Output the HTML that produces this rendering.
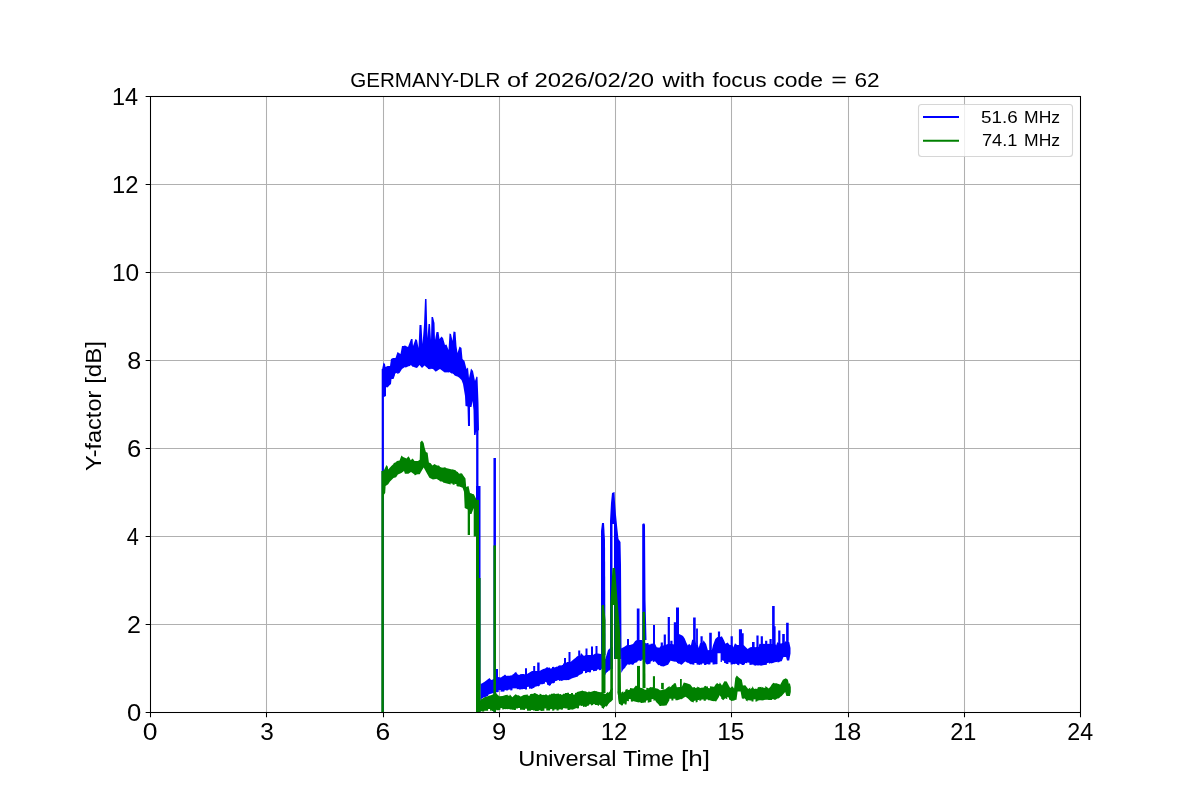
<!DOCTYPE html>
<html><head><meta charset="utf-8"><style>html,body{margin:0;padding:0;background:#fff;width:1200px;height:800px;overflow:hidden}svg{display:block;will-change:transform}</style></head>
<body><svg width="1200" height="800" viewBox="0 0 1200 800"><path d="M150.5 96V712M266.5 96V712M383.5 96V712M499.5 96V712M615.5 96V712M731.5 96V712M848.5 96V712M964.5 96V712M1080.5 96V712M150 712.5H1080M150 624.5H1080M150 536.5H1080M150 448.5H1080M150 360.5H1080M150 272.5H1080M150 184.5H1080M150 96.5H1080" stroke="#b0b0b0" stroke-width="1.05" fill="none"/><defs><clipPath id="ax"><rect x="150" y="96" width="930" height="616"/></clipPath></defs><g clip-path="url(#ax)"><polygon points="382.2,369 383.5,362.5 385,364 385.5,367 387.5,366 390,366 391,359 393,358 395.5,358 396.5,355 397.5,352 399,353 400.5,354 402,346 403.5,346 405,345.5 408,347 411,339 412.5,339 413,346 415.5,339 417,340 418.5,348 419.5,325 421.5,325 422.5,344 424,325 425,299 426.5,299 427.5,338 428.5,324 430,324 431,340 431.5,317 433,317 434.5,323 435,340 436.5,332 438.5,332 439.5,339 441.5,336.5 443,338 445,345 446.5,344.5 448.5,350 449.5,333.5 451,334 452.5,341 453.5,331.5 455.5,332 456.5,346 457.5,353 459.5,346.5 461.5,348 462.5,359 464.5,361 466.5,369 468,367.5 469,378 471,368.5 473,371 475,381 476.5,376.5 477.5,377 478.5,403 479,430 479,430 476,432 475.5,435 474,435 473.5,410 472.5,401 471.5,407 470,407 470,426 468,426 467.5,406.5 465.5,406 465,396 464,390 463,384 461.5,380 459,377.5 459,377.5 456.5,376 456.5,376.55 454,375.05 454,374.5 454,374.5 452,373.25 452,373.84 450,372.59 450,372 449,372.5 449,372.5 446.5,372.25 446.5,372.58 444,372.33 444,372 444,372 442,370.5 442,370.59 440,369.09 440,369 440,369 437.75,370.25 437.75,370.47 435.5,371.72 435.5,371.5 433,369 433,369 430.5,368.75 430.5,369.33 428,369.08 428,368.5 424.5,365.5 422,368 419.5,365 417,368 415,367.5 414,367 414,367 412,366.5 412,365.73 410,365.23 410,366 410,366 407.5,366.5 407.5,367 405,367.5 405,367 402,369 399.5,373 399.5,373 397.25,374 397.25,372.8 395,373.8 395,375 393.5,379 391.5,379 391,384 391,384 389,385.75 389,386.04 387,387.79 387,387.5 386,387 386,396 384,397 382,397" fill="#0000ff"/><polygon points="480.6,684 482.2,683.3 484.6,681.7 486.3,680.5 489.5,678 491.1,680 493.6,679.3 496,677 496,669.1 498,669.1 498,677 500.9,677.6 500.9,677.6 502.95,676 502.95,676.14 505,674.54 505,674.4 506.6,676 506.6,676 508.5,675.6 508.5,675.91 510.4,675.51 510.4,675.58 512.3,675.18 512.3,674.8 512.3,674.8 514.3,673.6 514.3,673 516.3,671.8 516.3,672.4 518,674.8 518,674.8 520,674.67 520,674.23 522,674.1 522,674.07 524,673.94 524,674.4 525,674 525,668.3 527,668.3 527,674 527,674 529.5,672.5 529.5,672.45 532,670.95 532,671 533.2,671 533.2,666 535.2,666 535.2,671 536.5,671 537.2,671 537.2,662.5 539.6,662.5 539.6,671 539.6,671 541.73,669.83 541.73,669.8 543.87,668.63 543.87,669.09 546,667.92 546,667.5 546,667.5 548,667.33 548,667.74 550,667.57 550,668.45 552,668.28 552,667 552,667 554,666.67 554,667.44 556,667.11 556,666.86 558,666.53 558,666 558,666 560.5,665 560.5,665.84 563,664.84 563,664 564,663 564,658 566,658 566,663 567,662 568.5,662 568.5,652 570.5,652 570.5,662 574,659 574,659 576,657.5 576,657.13 578,655.63 578,656 578.2,656 578.2,650.5 580.2,650.5 580.2,656 581,653 584,656 585.5,655 585.5,648.5 587.5,648.5 587.5,655 590,655 591,655 591,646.5 593,646.5 593,655 594.5,654 595.5,653.5 595.5,646 597.5,646 597.5,653.5 598,653.5 601,654 601,654 603.35,655.85 603.35,657.12 605.7,658.97 605.7,657.7 608,650 610.8,647.4 612.9,647 612.9,669 610.8,669 610.8,669 609.1,671 609.1,670.31 607.4,672.31 607.4,671.67 605.7,673.67 605.7,675 605.7,675 603.35,672.5 603.35,670.98 601,668.48 601,670 601,670 599,670.33 599,669.33 597,669.66 597,670.77 595,671.11 595,671 595,671 593,671.33 593,670 591,670.34 591,672.24 589,672.58 589,672 589,672 587,672.33 587,672.82 585,673.15 585,670.94 583,671.27 583,673 583,673 580.5,674.75 580.5,674.37 578,676.12 578,676.5 578,676.5 575.5,677.25 575.5,677.21 573,677.96 573,678 573,678 570.5,679 570.5,679.29 568,680.29 568,680 568,680 565.5,680.25 565.5,680 563,680.25 563,680.5 563,680.5 561,681 561,680.44 559,680.94 559,679.94 557,680.44 557,680.77 555,681.27 555,682.5 555,682.5 553,683.5 553,682.97 551,683.97 551,685.03 549,686.03 549,685.5 549,685.5 547,684.5 547,682.77 545,681.77 545,683.5 545,683.5 543.25,684.12 543.25,683.92 541.5,684.54 541.5,684.08 539.75,684.7 539.75,685.86 538,686.49 538,686 538,686 536.25,686.62 536.25,686.4 534.5,687.03 534.5,687.65 532.75,688.27 532.75,688.46 531,689.09 531,688.5 531,688.5 529,688.67 529,686.82 527,686.98 527,689.41 525,689.58 525,689 525,689 522.93,689 522.93,689.18 520.87,689.18 520.87,689.54 518.8,689.54 518.8,689 518.8,689 516.68,689.24 516.68,688.36 514.56,688.6 514.56,688.18 512.44,688.42 512.44,690.32 510.32,690.56 510.32,689.62 508.2,689.86 508.2,690.2 508.2,690.2 506.3,690.63 506.3,689.94 504.4,690.38 504.4,691.39 502.5,691.83 502.5,691.5 502.5,691.5 500.6,691.77 500.6,689.96 498.7,690.23 498.7,691.99 496.8,692.26 496.8,692.3 496.8,692.3 494.8,692.7 494.8,693.06 492.8,693.46 492.8,693.1 492.8,693.1 490.55,694.12 490.55,693.83 488.3,694.85 488.3,695.75 486.05,696.77 486.05,696.68 483.8,697.7 483.8,697.2 480.6,699.6" fill="#0000ff"/><polygon points="621,648.4 624,647 627,645 627,639 629,639 629,645 630,645 633,644 635.2,641 636.8,640 636.8,608.5 639.5,608.5 639.5,640 640.5,640 642.2,640 642.2,640 644.35,641.5 644.35,642.28 646.5,643.78 646.5,643 646.5,643 648.5,643 648.5,644.62 650.5,644.62 650.5,643.77 652.5,643.77 652.5,643 653,644 653,625 655,625 655,644 655,643.7 656.7,647.2 659.4,647.7 660.7,646 660.7,642.4 662.9,642.4 662.9,646 663.3,645.5 663.7,645 663.7,634.6 665.9,634.6 665.9,645 666.4,644.6 667.7,644 667.7,617 669.9,617 669.9,644 670.3,644 670.3,640.7 672.5,640.7 672.5,644 673.4,644.6 673.8,644 673.8,622.3 676,622.3 676,644 676,640 676,607.4 679,607.4 679,640 679,634.1 681.2,635 683,635.9 684.7,638.5 686.5,642.9 687.8,645.5 689.1,643.7 690.9,645.5 692.2,639.4 693.1,640 693.1,617.5 695.7,617.5 695.7,640 696.1,645 696.1,628.4 697.9,628.4 697.9,645 698.7,648.1 700,643.2 700.5,643 700.5,636.2 702.7,636.2 702.7,643 703.5,640.2 706.1,644.1 707.9,650.2 709.2,650 709.2,632.7 711.8,632.7 711.8,650 713.1,645 715.3,638.9 717.5,637.1 717.9,637 717.9,631.4 720.1,631.4 720.1,637 721.9,636.2 724.1,640.6 725.4,643.7 727.6,642.4 729.7,645 730.6,645 730.6,636.2 732.8,636.2 732.8,645 733.2,647.6 735,643.2 737.2,645 738.9,645 738.9,629.2 742,629.2 742,645 742,645 742,633.2 743.7,633.2 743.7,645 744.6,645.9 747.6,649 750.2,647.2 752,647 752,642 754.6,642 754.6,647 755.1,647.2 756.4,647 756.4,635.4 758.6,635.4 758.6,647 759.4,643.7 760.7,644 760.7,636.3 762.9,636.3 762.9,644 763.8,643.7 765.1,644 765.1,640.7 767.3,640.7 767.3,644 768.2,643.7 769.5,644 769.5,638.9 771.7,638.9 771.7,644 772.1,644 772.1,606.1 774.7,606.1 774.7,644 774.7,644 774.7,626.2 775.6,626.2 775.6,644 776.1,645.5 777.4,642 778.2,643 778.2,630.6 780.4,630.6 780.4,643 780.9,643.7 782.2,643 782.2,634.1 784.8,634.1 784.8,643 785.2,641.1 786.1,642 786.1,622.7 788.7,622.7 788.7,642 789.2,642 790.5,648.1 790.5,653.4 790.5,653.4 789.2,660.4 787,660.4 786.1,656.9 783.5,656.9 781.7,661.2 781.7,661.2 779.67,661.5 779.67,662.1 777.63,662.4 777.63,661.86 775.6,662.16 775.6,662.1 773,663 773,663 770.97,663.57 770.97,663.11 768.93,663.68 768.93,662.7 766.9,663.27 766.9,664.7 766.9,664.7 764.7,664.93 764.7,664.97 762.5,665.2 762.5,665.6 760.3,665.82 760.3,665.24 758.1,665.46 758.1,665.6 758.1,665.6 755.9,665.15 755.9,665.75 753.7,665.3 753.7,664.7 753.7,664.7 751.53,664.5 751.53,664.9 749.35,664.7 749.35,662.8 747.17,662.6 747.17,663.23 745,663.03 745,663.9 743.7,665.1 743.7,665.1 741.53,664.88 741.53,663.89 739.35,663.66 739.35,665.2 737.17,664.98 737.17,664.07 735,663.85 735,664.2 735,664.2 732.8,664 732.8,664.6 730.6,664.4 730.6,662.5 728.4,662.3 728.4,664.09 726.2,663.89 726.2,663.4 726.2,663.4 724.05,662.75 724.05,660.94 721.9,660.29 721.9,662.1 720.6,662 720.6,653.3 717.5,653.3 717.5,664 716.6,664.2 716.6,664.2 714.57,664.2 714.57,664.59 712.53,664.59 712.53,662.49 710.5,662.49 710.5,664.2 710.5,664.2 708.3,664.65 708.3,664.1 706.1,664.55 706.1,665.1 706.1,665.1 704.07,665.1 704.07,663.49 702.03,663.49 702.03,664.51 700,664.51 700,665.1 698.7,664.7 698.7,664.7 696.53,664.5 696.53,663.1 694.35,662.9 694.35,664.68 692.17,664.48 692.17,664.37 690,664.17 690,663.9 690,663.9 687.8,662.55 687.8,663.1 685.6,661.75 685.6,661.2 685.6,661.2 683.4,662.95 683.4,663.32 681.2,665.07 681.2,664.7 681.2,664.7 679.05,663.4 679.05,664 676.9,662.7 676.9,662.1 676.9,662.1 674.83,661.53 674.83,661.85 672.77,661.28 672.77,661.33 670.7,660.76 670.7,660.4 668.1,664.7 668.1,664.7 665.9,665.6 665.9,665.62 663.7,666.52 663.7,666.5 663.7,666.5 661.97,666.2 661.97,666.22 660.23,665.92 660.23,665.26 658.5,664.96 658.5,665.6 655,661.2 655,661.2 652.8,662.35 652.8,660.57 650.6,661.72 650.6,663.5 647.1,664.5 647.1,664.5 645.37,663.17 645.37,662.36 643.63,661.03 643.63,660.65 641.9,659.32 641.9,660.5 641.9,660.5 639.7,661.25 639.7,660.3 637.5,661.05 637.5,662 637.5,662 635.73,662.83 635.73,662.6 633.97,663.43 633.97,664.27 632.2,665.1 632.2,664.5 632.2,664.5 630.05,664.25 630.05,664.77 627.9,664.52 627.9,664 627.9,664 625.7,666.5 625.7,667 623.5,669.5 623.5,669 621.3,673" fill="#0000ff"/><polygon points="601,655 601,531 602,523 604,523 605,540 605.5,655" fill="#0000ff"/><polygon points="610,655 610,521 611,503 612,493 614.5,492 615,502 616,515 617.5,530 618.5,539 620.5,542 621,565 621.5,647 621.5,659 614,659 614,524 612.5,524 612.5,655" fill="#0000ff"/><polygon points="642.2,640 642.2,524.5 643,523.4 644.5,523.4 645,525 645.5,600 646.5,640" fill="#0000ff"/><rect x="381.70" y="369" width="2.2" height="343" fill="#0000ff"/><rect x="476.15" y="430" width="2.3" height="282" fill="#0000ff"/><rect x="493.45" y="458" width="2.5" height="254" fill="#0000ff"/><rect x="476" y="486" width="4.50" height="226" fill="#0000ff"/><polygon points="382.1,471 383.9,470.2 386.5,465 387.8,466.7 388.2,469.4 391.3,465.9 391.3,465.9 393.25,464.35 393.25,463.8 395.2,462.25 395.2,462.8 397,461 399.6,460.6 401.4,455.4 403.1,457.1 406.6,458.4 408.4,456.2 409.7,458 410.6,460.2 412.7,458.4 414.5,461 418,461 419.7,459.7 420.2,442.2 422,440.5 423.7,443.1 424.6,447.5 425.9,451.9 427.6,452.7 428.9,462.4 430.7,463.2 432.4,465.4 434.6,464.1 436,465 436,465 437.83,465.83 437.83,465.24 439.67,466.08 439.67,466.64 441.5,467.47 441.5,467.5 441.5,467.5 443.67,467.83 443.67,467.24 445.83,467.57 445.83,468.08 448,468.41 448,468.5 448,468.5 450,469.12 450,468.9 452,469.53 452,469.16 454,469.78 454,469.79 456,470.42 456,471 456,471 458.2,472.17 458.2,472.93 460.4,474.1 460.4,472.76 462.6,473.93 462.6,474.5 465.5,478.5 466.2,487 468.5,486 470,493 470,493 471.85,493.5 471.85,493.69 473.7,494.19 473.7,494 476.7,500 476.7,536.5 473.7,536.5 473.7,508 471.5,514 470,514 470,535 467.7,535 467.7,509.5 464.7,508 464,491.8 462.6,487.7 462.6,487.7 460.58,487.02 460.58,486.96 458.55,486.28 458.55,486.64 456.52,485.96 456.52,484.37 454.5,483.69 454.5,485 454.5,485 452.58,484.5 452.58,483.63 450.67,483.13 450.67,484.43 448.75,483.93 448.75,484.06 446.83,483.56 446.83,483.57 444.92,483.07 444.92,482.91 443,482.41 443,482 443,482 441.25,481.25 441.25,481.78 439.5,481.03 439.5,480.42 437.75,479.67 437.75,479.53 436,478.78 436,479 432.9,479.4 429.4,477.7 426.7,472.9 423.7,467.6 422,470.2 419.7,474.2 419.7,474.2 417.97,474.33 417.97,474.33 416.23,474.47 416.23,475.06 414.5,475.19 414.5,474.6 411,472 408.4,473.7 404.9,473.7 404,471.1 401.4,472.9 397.9,474.6 396.1,477.2 393.5,478.1 390,481.6 388.2,484.2 385.6,486 385.2,493 383.9,494.7 383,500" fill="#008000"/><polygon points="480.6,699.6 480.6,699.6 482.6,698.4 482.6,698.54 484.6,697.34 484.6,697.2 487.9,696.3 487.9,696.3 490.35,695.3 490.35,695.61 492.8,694.61 492.8,694.3 492.8,694.3 494.8,694.1 494.8,693.51 496.8,693.31 496.8,693.9 499.3,696.3 502.5,695.9 505.8,695.1 505.8,695.1 507.8,694.7 507.8,695.85 509.8,695.45 509.8,694.3 512.3,697.2 515.5,694.3 515.5,694.3 517.95,695.5 517.95,695.04 520.4,696.24 520.4,696.7 523.7,695.1 523.7,695.1 525.8,694.83 525.8,694.79 527.9,694.52 527.9,695.72 530,695.45 530,694.3 530,694.3 532,693.65 532,694.07 534,693.42 534,693 534,693 535.83,693.25 535.83,693.66 537.67,693.91 537.67,694.78 539.5,695.03 539.5,693.83 541.33,694.08 541.33,694.77 543.17,695.02 543.17,694.78 545,695.03 545,694.5 545,694.5 547,694.4 547,695.24 549,695.14 549,694.57 551,694.47 551,693.83 553,693.73 553,693.5 555,693.4 555,694 555,694 557,693.8 557,693.76 559,693.56 559,694.29 561,694.09 561,694.73 563,694.53 563,693.87 565,693.67 565,693 565,693 567,693 567,692.79 569,692.79 569,694 571,694 571,692.89 573,692.89 573,694.59 575,694.59 575,693 575,693 577,692.5 577,691.92 579,691.42 579,691.45 581,690.95 581,691.02 583,690.52 583,691 583,691 584.75,691.25 584.75,691.13 586.5,691.38 586.5,691.88 588.25,692.13 588.25,691.38 590,691.63 590,692 590,692 592.5,691.5 592.5,691.27 595,690.77 595,691 595,691 597,691.33 597,691.59 599,691.92 599,691.92 601,692.25 601,692 601,692 603.5,692.75 603.5,693.31 606,694.06 606,693.5 606,693.5 608,691.75 608,692.98 610,691.23 610,690 612.9,688 612.9,699.7 612.9,699.7 610.45,702.35 610.45,701.82 608,704.47 608,705 608,705 606,707 606,705.75 604,707.75 604,709 604,709 601.5,707.5 601.5,706.05 599,704.55 599,706 597,705 597,705 595,705 595,704.33 593,704.33 593,705 593,705 591,705.38 591,704.25 589,704.62 589,705.53 587,705.9 587,706.52 585,706.9 585,706.5 585,706.5 583,706.88 583,705.65 581,706.03 581,705.4 579,705.78 579,708.21 577,708.58 577,708 577,708 574.5,708.75 574.5,708.93 572,709.68 572,709.5 572,709.5 569.75,709.5 569.75,709.88 567.5,709.88 567.5,708.62 565.25,708.62 565.25,708.2 563,708.2 563,709.5 563,709.5 560.83,709.67 560.83,709.32 558.67,709.49 558.67,710.43 556.5,710.59 556.5,709.31 554.33,709.48 554.33,710.49 552.17,710.66 552.17,708.99 550,709.16 550,710.5 550,710.5 548.12,710.5 548.12,710.46 546.25,710.46 546.25,708.61 544.38,708.61 544.38,710.86 542.5,710.86 542.5,711.09 540.62,711.09 540.62,710.2 538.75,710.2 538.75,711.1 536.88,711.1 536.88,711 535,711 535,710.5 535,710.5 533,710.4 533,710.07 531,709.97 531,710.84 529,710.74 529,710.8 527,710.7 527,708.82 525,708.72 525,710 522,709.8 522,709.8 519.98,709.8 519.98,708.1 517.95,708.1 517.95,708.39 515.92,708.39 515.92,710.04 513.9,710.04 513.9,709.8 513.9,709.8 511.94,709.7 511.94,709.62 509.98,709.52 509.98,709.16 508.02,709.06 508.02,709.21 506.06,709.11 506.06,709.22 504.1,709.12 504.1,709.3 504.1,709.3 502.23,709.6 502.23,707.99 500.37,708.29 500.37,709.86 498.5,710.16 498.5,710.2 498.5,710.2 496.33,710.33 496.33,709.64 494.17,709.77 494.17,710.93 492,711.06 492,710.6 492,710.6 490.06,710.7 490.06,708.91 488.12,709.01 488.12,710.72 486.19,710.82 486.19,710.75 484.25,710.85 484.25,711.6 482.31,711.7 482.31,711.27 480.38,711.37 480.38,710.96 478.44,711.06 478.44,711.9 476.5,712 476.5,711.4" fill="#008000"/><polygon points="617.5,691.5 617.5,691.5 619.35,692.05 619.35,692.83 621.2,693.38 621.2,692.6 621.2,692.6 623.25,691.15 623.25,692.77 625.3,691.32 625.3,689.7 625.3,689.7 627.65,688.8 627.65,690.33 630,689.43 630,687.9 633.5,688.5 635.9,685.6 635.9,685.6 638.25,686.75 638.25,686.69 640.6,687.84 640.6,687.9 640.6,687.9 642.5,688.05 642.5,688.5 644.4,688.65 644.4,689.63 646.3,689.78 646.3,687.78 648.2,687.93 648.2,688.5 650.6,687 650.6,687 652.35,687.38 652.35,686.93 654.1,687.3 654.1,687.89 655.85,688.26 655.85,688.35 657.6,688.72 657.6,688.5 660,690.3 660,690.3 662.35,690 662.35,689.52 664.7,689.22 664.7,689.7 667.6,687.3 667.6,687.3 669.67,685.93 669.67,687.43 671.73,686.07 671.73,685.43 673.8,684.07 673.8,683.2 675.8,683.2 676.8,687.3 680,687 680,679.1 681.8,679.1 681.8,687 683.8,682.6 686.8,683.2 690.3,684.4 692.6,687.6 692.6,687.6 694.95,687 694.95,687.99 697.3,687.39 697.3,686.4 700.3,687.9 700.3,687.9 702.23,687.4 702.23,687.75 704.17,687.25 704.17,686.34 706.1,685.84 706.1,686.4 706.1,686.4 708.02,686.62 708.02,687.92 709.95,688.15 709.95,686.36 711.88,686.58 711.88,686.59 713.8,686.82 713.8,687.3 716.1,683.8 716.1,683.8 717.9,683.05 717.9,684.35 719.7,683.6 719.7,682.3 722,685.6 724.4,681.2 726.7,681.5 728.8,685.6 730.2,687.9 732.4,686.2 734.1,688.5 735.3,677.9 736.8,675.6 738.8,677.6 741.8,679.7 742.9,685.6 745.3,685.3 748.2,689.1 748.2,689.1 750.25,687.5 750.25,689.21 752.3,687.61 752.3,685.9 754.1,689.1 754.1,689.1 755.87,688.5 755.87,689.05 757.63,688.45 757.63,687.4 759.4,686.8 759.4,687.3 759.4,687.3 761.37,686.83 761.37,687.43 763.33,686.96 763.33,688.1 765.3,687.64 765.3,685.9 768.8,688.5 768.8,688.5 771.15,685.7 771.15,685.32 773.5,682.52 773.5,682.9 773.5,682.9 775.67,683.6 775.67,683.07 777.83,683.77 777.83,683.75 780,684.45 780,685 782.9,679.7 785.8,678.2 787.9,679.7 788.8,683.8 789.9,683.2 790.8,687.3 790.8,692 790.8,692 789.9,696.1 786.4,696.1 785.2,692 781.7,696.1 781.7,696.1 779.73,697.3 779.73,697.67 777.77,698.87 777.77,698.19 775.8,699.39 775.8,699.7 775.8,699.7 773.9,699.7 773.9,699.15 772,699.15 772,700.01 770.1,700.01 770.1,700.06 768.2,700.06 768.2,699.7 768.2,699.7 766,699.85 766,699.87 763.8,700.02 763.8,700.35 761.6,700.5 761.6,700.17 759.4,700.32 759.4,700.3 759.4,700.3 757.43,700.67 757.43,701.26 755.47,701.63 755.47,699.26 753.5,699.62 753.5,701.4 753.5,701.4 751.53,701.4 751.53,700.59 749.57,700.59 749.57,700.22 747.6,700.22 747.6,701.4 747.6,701.4 745.67,700.23 745.67,699.28 743.73,698.12 743.73,699.33 741.8,698.16 741.8,697.9 740.6,691.4 737.6,691.4 736.5,699.7 736.5,699.7 734.6,699.9 734.6,700.5 732.7,700.7 732.7,700.69 730.8,700.89 730.8,700.3 730.8,700.3 729.03,699.5 729.03,697.82 727.27,697.02 727.27,699.2 725.5,698.4 725.5,697.9 723.2,700.3 723.2,700.3 721.15,698.5 721.15,696.94 719.1,695.14 719.1,696.7 716.1,701.4 716.1,701.4 714.17,701.03 714.17,701.34 712.23,700.97 712.23,700.95 710.3,700.59 710.3,700.3 710.3,700.3 708.07,700.3 708.07,699.4 705.85,699.4 705.85,700.87 703.62,700.87 703.62,699.5 701.4,699.5 701.4,700.3 701.4,700.3 699.5,700.88 699.5,699.63 697.6,700.2 697.6,702.05 695.7,702.62 695.7,700.39 693.8,700.96 693.8,702.6 690.9,701.4 687.9,698.5 685.6,696.7 685.6,696.7 683.25,697.9 683.25,698.21 680.9,699.41 680.9,699.1 677.4,700.3 677.4,700.3 675.4,700.3 675.4,698.79 673.4,698.79 673.4,700.61 671.4,700.61 671.4,698.76 669.4,698.76 669.4,700.3 666.4,705.5 666.4,705.5 664.65,705.5 664.65,705.86 662.9,705.86 662.9,705.85 661.15,705.85 661.15,706.02 659.4,706.02 659.4,705.5 659.4,705.5 657.35,702.9 657.35,703.44 655.3,700.84 655.3,700.3 655.3,700.3 653.42,700.76 653.42,698.88 651.54,699.34 651.54,701.75 649.66,702.21 649.66,702.27 647.78,702.73 647.78,700.31 645.9,700.77 645.9,702.6 645.9,702.6 644.12,702.6 644.12,702.79 642.35,702.79 642.35,703.06 640.57,703.06 640.57,702.32 638.8,702.32 638.8,702.6 638.8,702.6 636.75,702 636.75,702.08 634.7,701.48 634.7,701.4 634.7,701.4 632.78,701.12 632.78,701.72 630.85,701.44 630.85,699.35 628.92,699.08 628.92,701.17 627,700.9 627,700.3 626.5,704.4 626.5,704.4 624.73,704.6 624.73,703.44 622.97,703.64 622.97,705.36 621.2,705.56 621.2,705 619,703.8 617.5,691.5" fill="#008000"/><polygon points="601.5,693 601.5,606 602,605 604,605 605.5,620 605.5,693" fill="#008000"/><polygon points="610.3,690 610.3,603 611.5,585 612.5,568 615,568 616,580 617.5,600 619.5,625 620.5,640 621,693 621.5,704 619,704 617.5,691.5 617.5,659 614.4,659 614.4,605 612.9,605 612.9,690" fill="#008000"/><polygon points="637,688 637,665.9 640,665.9 640,688" fill="#008000"/><polygon points="642.5,688 642.5,612.5 643.5,611.5 645,612 645.5,688" fill="#008000"/><polygon points="652.9,688 652.9,676.2 655,676.2 655,688" fill="#008000"/><polygon points="661.1,689 661.1,682.9 663.8,682.9 663.8,689" fill="#008000"/><rect x="381.35" y="471" width="2.5" height="241" fill="#008000"/><rect x="493.45" y="545.4" width="2.5" height="166.60000000000002" fill="#008000"/><rect x="476" y="500" width="3.00" height="78" fill="#008000"/><rect x="476" y="578" width="4.60" height="134" fill="#008000"/></g><rect x="150.5" y="96.5" width="930" height="616" fill="none" stroke="#000" stroke-width="1.05" stroke-linejoin="miter"/><path d="M150.5 712.5v4.86M266.5 712.5v4.86M383.5 712.5v4.86M499.5 712.5v4.86M615.5 712.5v4.86M731.5 712.5v4.86M848.5 712.5v4.86M964.5 712.5v4.86M1080.5 712.5v4.86M150.5 712.5h-4.86M150.5 624.5h-4.86M150.5 536.5h-4.86M150.5 448.5h-4.86M150.5 360.5h-4.86M150.5 272.5h-4.86M150.5 184.5h-4.86M150.5 96.5h-4.86" stroke="#000" stroke-width="1.05" fill="none"/><text x="350.2" y="87" font-size="20.5" textLength="150.11" lengthAdjust="spacingAndGlyphs" font-family="'Liberation Sans', sans-serif">GERMANY-DLR</text><text x="506.97" y="87" font-size="20.5" textLength="21.07" lengthAdjust="spacingAndGlyphs" font-family="'Liberation Sans', sans-serif">of</text><text x="534.53" y="87" font-size="20.5" textLength="119.58" lengthAdjust="spacingAndGlyphs" font-family="'Liberation Sans', sans-serif">2026/02/20</text><text x="662.4" y="87" font-size="20.5" textLength="42.72" lengthAdjust="spacingAndGlyphs" font-family="'Liberation Sans', sans-serif">with</text><text x="712.4" y="87" font-size="20.5" textLength="54.31" lengthAdjust="spacingAndGlyphs" font-family="'Liberation Sans', sans-serif">focus</text><text x="773.28" y="87" font-size="20.5" textLength="49.74" lengthAdjust="spacingAndGlyphs" font-family="'Liberation Sans', sans-serif">code</text><text x="831.19" y="87" font-size="20.5" textLength="15.7" lengthAdjust="spacingAndGlyphs" font-family="'Liberation Sans', sans-serif">=</text><text x="854.5" y="87" font-size="20.5" textLength="25.15" lengthAdjust="spacingAndGlyphs" font-family="'Liberation Sans', sans-serif">62</text><text x="518.2" y="765.6" font-size="21.5" textLength="98.38" lengthAdjust="spacingAndGlyphs" font-family="'Liberation Sans', sans-serif">Universal</text><text x="623.1" y="765.6" font-size="21.5" textLength="50.97" lengthAdjust="spacingAndGlyphs" font-family="'Liberation Sans', sans-serif">Time</text><text x="680.99" y="765.6" font-size="21.5" textLength="29.01" lengthAdjust="spacingAndGlyphs" font-family="'Liberation Sans', sans-serif">[h]</text><text transform="translate(100.75 800) rotate(-90)" x="329.11" y="0" font-size="21.5" textLength="80.24" lengthAdjust="spacingAndGlyphs" font-family="'Liberation Sans', sans-serif">Y-factor</text><text transform="translate(100.75 800) rotate(-90)" x="416.18" y="0" font-size="21.5" textLength="42.82" lengthAdjust="spacingAndGlyphs" font-family="'Liberation Sans', sans-serif">[dB]</text><text x="142.87" y="740" font-size="23.5" textLength="14.74" lengthAdjust="spacingAndGlyphs" font-family="'Liberation Sans', sans-serif">0</text><text x="260.26" y="740" font-size="23.5" textLength="13.55" lengthAdjust="spacingAndGlyphs" font-family="'Liberation Sans', sans-serif">3</text><text x="375.57" y="740" font-size="23.5" textLength="14.74" lengthAdjust="spacingAndGlyphs" font-family="'Liberation Sans', sans-serif">6</text><text x="492.01" y="740" font-size="23.5" textLength="14.27" lengthAdjust="spacingAndGlyphs" font-family="'Liberation Sans', sans-serif">9</text><text x="600.65" y="740" font-size="23.5" textLength="26.82" lengthAdjust="spacingAndGlyphs" font-family="'Liberation Sans', sans-serif">12</text><text x="717.21" y="740" font-size="23.5" textLength="27.28" lengthAdjust="spacingAndGlyphs" font-family="'Liberation Sans', sans-serif">15</text><text x="833.15" y="740" font-size="23.5" textLength="28.07" lengthAdjust="spacingAndGlyphs" font-family="'Liberation Sans', sans-serif">18</text><text x="950.3" y="740" font-size="23.5" textLength="26.14" lengthAdjust="spacingAndGlyphs" font-family="'Liberation Sans', sans-serif">21</text><text x="1067.31" y="740" font-size="23.5" textLength="25.83" lengthAdjust="spacingAndGlyphs" font-family="'Liberation Sans', sans-serif">24</text><text x="126.91" y="720.5" font-size="23.5" textLength="14.27" lengthAdjust="spacingAndGlyphs" font-family="'Liberation Sans', sans-serif">0</text><text x="126.94" y="632.5" font-size="23.5" textLength="13.91" lengthAdjust="spacingAndGlyphs" font-family="'Liberation Sans', sans-serif">2</text><text x="126.8" y="544.5" font-size="23.5" textLength="12.07" lengthAdjust="spacingAndGlyphs" font-family="'Liberation Sans', sans-serif">4</text><text x="126.91" y="456.5" font-size="23.5" textLength="14.27" lengthAdjust="spacingAndGlyphs" font-family="'Liberation Sans', sans-serif">6</text><text x="127.18" y="368.5" font-size="23.5" textLength="13.97" lengthAdjust="spacingAndGlyphs" font-family="'Liberation Sans', sans-serif">8</text><text x="111.91" y="280.5" font-size="23.5" textLength="27.28" lengthAdjust="spacingAndGlyphs" font-family="'Liberation Sans', sans-serif">10</text><text x="111.98" y="192.5" font-size="23.5" textLength="26.42" lengthAdjust="spacingAndGlyphs" font-family="'Liberation Sans', sans-serif">12</text><text x="112.0" y="104.5" font-size="23.5" textLength="26.14" lengthAdjust="spacingAndGlyphs" font-family="'Liberation Sans', sans-serif">14</text><rect x="918.5" y="104.5" width="154" height="52" rx="3" ry="3" fill="#fff" fill-opacity="0.8" stroke="#cccccc" stroke-opacity="0.8" stroke-width="1.11"/><path d="M923 117H959" stroke="#0000ff" stroke-width="2.08"/><path d="M923 140.8H959" stroke="#008000" stroke-width="2.08"/><text x="981.09" y="123" font-size="17" textLength="36.71" lengthAdjust="spacingAndGlyphs" font-family="'Liberation Sans', sans-serif">51.6</text><text x="1024.07" y="123" font-size="17" textLength="36.01" lengthAdjust="spacingAndGlyphs" font-family="'Liberation Sans', sans-serif">MHz</text><text x="981.93" y="146" font-size="17" textLength="35.47" lengthAdjust="spacingAndGlyphs" font-family="'Liberation Sans', sans-serif">74.1</text><text x="1024.07" y="146" font-size="17" textLength="36.01" lengthAdjust="spacingAndGlyphs" font-family="'Liberation Sans', sans-serif">MHz</text></svg></body></html>
